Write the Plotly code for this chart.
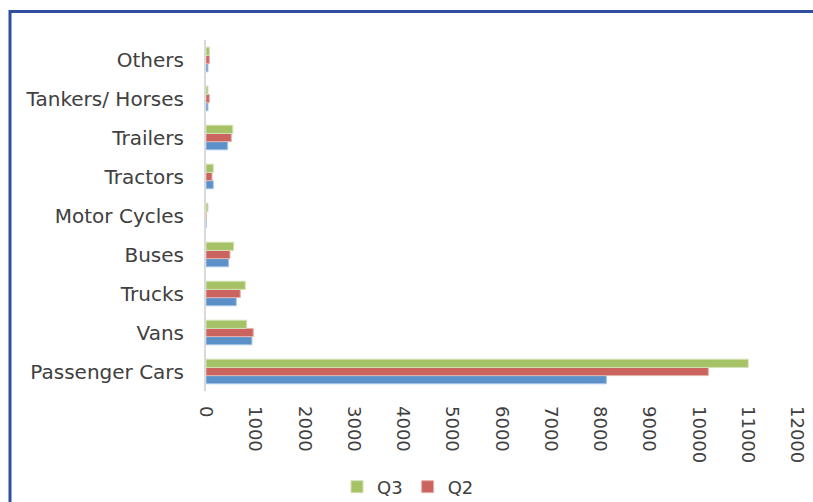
import plotly.graph_objects as go

categories = ["Passenger Cars", "Vans", "Trucks", "Buses", "Motor Cycles",
              "Tractors", "Trailers", "Tankers/ Horses", "Others"]
q1 = [8130, 933, 615, 460, 5, 148, 440, 40, 40]
q2 = [10200, 960, 696, 487, 5, 122, 514, 68, 68]
q3 = [11010, 826, 797, 562, 40, 148, 544, 40, 68]
x_ticks = list(range(0, 12001, 1000))
x_tick_labels = [str(v) for v in x_ticks]

W, H = 813, 502
L, R, T, B = 206, 16, 40, 111
pw, ph = W - L - R, H - T - B

def px_to_paper_x(px):
    return (px - L) / pw

def py_to_paper_y(py):
    return (H - B - py) / ph

font_family = "'DejaVu Sans', sans-serif"

fig = go.Figure()
fig.add_trace(go.Bar(y=categories, x=q1, name="Q1", orientation="h",
                     marker=dict(color="#5B90C9", line=dict(color="#A9C6E6", width=1)),
                     showlegend=False))
fig.add_trace(go.Bar(y=categories, x=q2, name="Q2", orientation="h",
                     marker=dict(color="#CB635E", line=dict(color="#E6B1AE", width=1))))
fig.add_trace(go.Bar(y=categories, x=q3, name="Q3", orientation="h",
                     marker=dict(color="#A6C266", line=dict(color="#D3E1B3", width=1))))

fig.update_layout(
    width=W, height=H,
    margin=dict(l=L, r=R, t=T, b=B, autoexpand=False),
    barmode="group", bargap=0.37, bargroupgap=0,
    plot_bgcolor="white", paper_bgcolor="white",
    font=dict(family=font_family, color="#404040", size=18),
    legend=dict(orientation="h", traceorder="reversed",
                x=px_to_paper_x(408), xanchor="center",
                y=py_to_paper_y(487), yanchor="middle",
                font=dict(size=18, color="#404040"), itemwidth=30),
    xaxis=dict(range=[0, 12000], tickvals=x_ticks, ticktext=x_tick_labels,
               tickangle=90, showgrid=False, zeroline=False, showline=False,
               ticks="", tickfont=dict(size=18, color="#404040"),
               ticklabelstandoff=14),
    yaxis=dict(showgrid=False, zeroline=False, showline=True,
               linecolor="#D9D9D9", linewidth=2, ticks="",
               tickfont=dict(size=20, color="#404040"), ticklabelstandoff=16),
    shapes=[dict(type="rect", xref="paper", yref="paper",
                 x0=px_to_paper_x(10), x1=px_to_paper_x(840),
                 y0=py_to_paper_y(11.5), y1=py_to_paper_y(540),
                 line=dict(color="#2F4E9D", width=3), fillcolor="rgba(0,0,0,0)",
                 layer="above")],
)

fig.write_html("out.html", config={"displayModeBar": False},
               post_script="document.body.style.margin='0';document.body.style.overflow='hidden';")
